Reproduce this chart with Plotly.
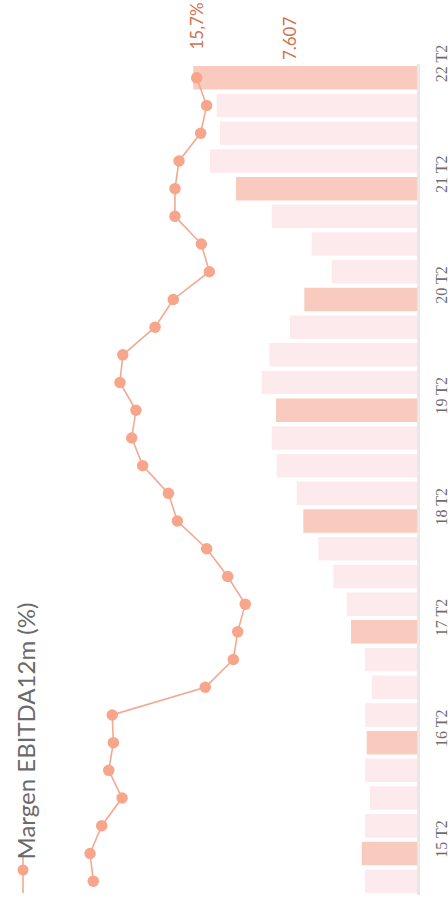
import plotly.graph_objects as go

# Quarters, oldest to newest
quarters = [f"{y} T{q}" for y in range(15, 23) for q in range(1, 5)][:30]

# Bar values (oldest -> newest)
bar_values = [1768, 1880, 1768, 1598, 1768, 1710, 1768, 1540, 1768, 2244,
              2390, 2846, 3356, 3866, 4090, 4770, 4940, 4794, 5280, 5022,
              4318, 3832, 2900, 3580, 4940, 6154, 7038, 6698, 6811, 7607]

# Margen EBITDA12m (%) (oldest -> newest)
margin = [23.07, 23.30, 22.47, 21.02, 21.97, 21.64, 21.72, 15.09, 13.09, 12.78,
          12.24, 13.49, 14.99, 17.08, 17.72, 19.55, 20.33, 20.03, 21.17, 20.97,
          18.67, 17.37, 14.80, 15.37, 17.25, 17.25, 16.96, 15.42, 14.99, 15.70]

tick_labels = [q for q in quarters if q.endswith("T2")]

dark = "#F8CBBE"
light = "#FDEAED"
bar_colors = [dark if q.endswith("T2") else light for q in quarters]

fig = go.Figure()
fig.add_trace(go.Bar(
    x=bar_values, y=quarters, orientation="h",
    marker=dict(color=bar_colors, line=dict(width=0)),
    xaxis="x", yaxis="y", showlegend=False,
))
fig.add_trace(go.Scatter(
    x=margin, y=quarters, mode="lines+markers",
    line=dict(color="#F2A991", width=1.6),
    marker=dict(size=11.5, color="#F7A68B"),
    xaxis="x2", yaxis="y", name="Margen EBITDA12m (%)", showlegend=False,
    cliponaxis=False,
))

L, R_px, T, B = 40, 31, 64, 12
W, H = 448, 907
plot_w = W - L - R_px
bar_scale = 34.0      # units per px
line_scale = 0.07127  # % per px

fig.update_layout(
    width=W, height=H,
    margin=dict(l=L, r=R_px, t=T, b=B, autoexpand=False),
    paper_bgcolor="white", plot_bgcolor="white",
    bargap=0.15,
    xaxis=dict(range=[plot_w * bar_scale, 0], visible=False, fixedrange=True),
    xaxis2=dict(range=[plot_w * line_scale, 0], visible=False, overlaying="x"),
    yaxis=dict(
        type="category", categoryorder="array", categoryarray=quarters,
        range=[-0.5, len(quarters) - 0.5], automargin=False,
        side="right", showgrid=False,
        showline=True, linecolor="#E8E8E8", linewidth=3,
        tickmode="array", tickvals=tick_labels, ticktext=tick_labels,
        tickangle=-90, ticks="",
        tickfont=dict(family="Liberation Serif", size=16, color="#6E6E6E"),
        ticklabelshift=-12, ticklabelstandoff=8,
    ),
    showlegend=False,
)

fig.add_annotation(
    x=margin[-1], y=quarters[-1], xref="x2", yref="y",
    text="15,7%", showarrow=False, textangle=-90,
    yshift=52, font=dict(family="Lato", size=17, color="#D2714C"),
)
fig.add_annotation(
    x=bar_values[-1], y=quarters[-1], xref="x", yref="y",
    text="7.607", showarrow=False, textangle=-90,
    xshift=97, yshift=40, font=dict(family="Lato", size=17, color="#D2714C"),
)

# Legend (rotated)
def px_x(p):
    return (p - L) / plot_w

plot_h = H - T - B
def px_y(p):
    return (H - B - p) / plot_h

fig.add_annotation(
    x=px_x(25), y=px_y(862), xref="paper", yref="paper",
    text="Margen EBITDA12m (%)", showarrow=False, textangle=-90,
    xanchor="center", yanchor="bottom",
    font=dict(family="Lato", size=24, color="#6A6A6A"),
)
fig.add_shape(type="line", xref="paper", yref="paper",
              x0=px_x(23), x1=px_x(23), y0=px_y(853), y1=px_y(893),
              line=dict(color="#F2A991", width=1.6))
fig.add_shape(type="circle", xref="paper", yref="paper",
              x0=px_x(17.5), x1=px_x(28.5), y0=px_y(875.5), y1=px_y(864.5),
              fillcolor="#F7A68B", line=dict(width=0))

fig.write_html(
    "out.html",
    config={"displayModeBar": False},
    post_script="document.body.style.margin='0';document.body.style.padding='0';document.body.style.overflow='hidden';",
)
